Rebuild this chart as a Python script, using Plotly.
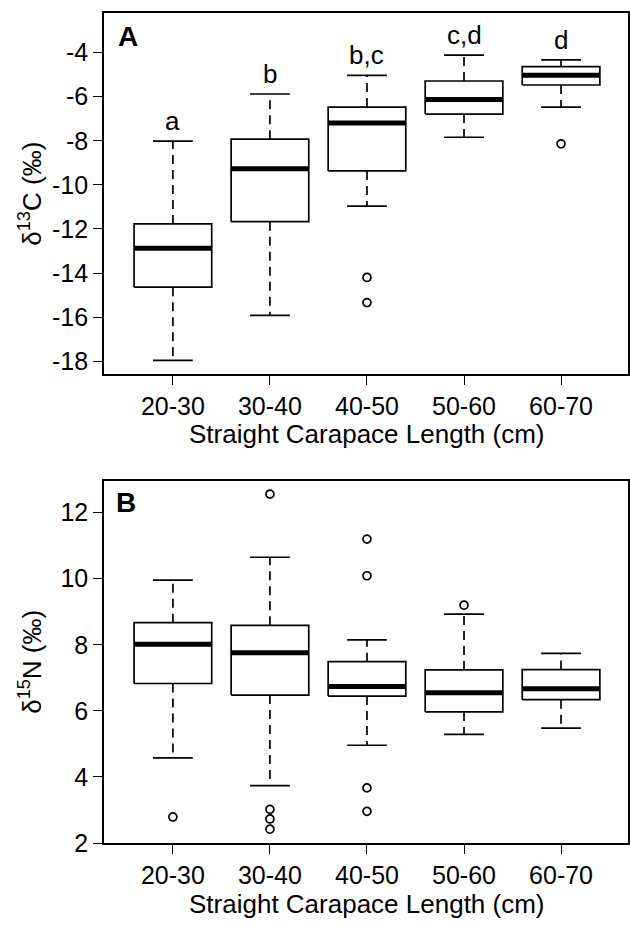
import plotly.graph_objects as go

# ---------------- data ----------------
categories = ["20-30", "30-40", "40-50", "50-60", "60-70"]

c13_lower = [-17.96, -15.92, -10.96, -7.84, -6.47]
c13_q1 = [-14.64, -11.67, -9.37, -6.79, -5.47]
c13_median = [-12.88, -9.27, -7.20, -6.13, -5.03]
c13_q3 = [-11.77, -7.93, -6.47, -5.29, -4.64]
c13_upper = [-8.02, -5.88, -5.03, -4.12, -4.33]
c13_outliers = [[], [], [-14.20, -15.34], [], [-8.14]]
c13_letters = ["a", "b", "b,c", "c,d", "d"]
c13_ticks = [-18, -16, -14, -12, -10, -8, -6, -4]

n15_lower = [4.58, 3.74, 4.96, 5.29, 5.48]
n15_q1 = [6.83, 6.48, 6.45, 5.97, 6.34]
n15_median = [8.02, 7.76, 6.74, 6.55, 6.67]
n15_q3 = [8.67, 8.59, 7.49, 7.24, 7.25]
n15_upper = [9.96, 10.65, 8.15, 8.93, 7.74]
n15_outliers = [[2.79], [12.56, 3.02, 2.73, 2.42], [11.20, 10.09, 3.67, 2.96], [9.20], []]
n15_ticks = [2, 4, 6, 8, 10, 12]

# ---------------- styling ----------------
W, H = 630, 927
FONT = "Liberation Sans, Arial, Helvetica, sans-serif"
BOX_HALF = 0.40
CAP_HALF = 0.205
LW = 1.7

fig = go.Figure()


def add_panel(xa, ya, lower, q1, med, q3, upper, outliers):
    xs = list(range(len(categories)))
    # box rectangles
    bx, by = [], []
    for i in xs:
        bx += [i - BOX_HALF, i + BOX_HALF, i + BOX_HALF, i - BOX_HALF, i - BOX_HALF, None]
        by += [q1[i], q1[i], q3[i], q3[i], q1[i], None]
    fig.add_trace(go.Scatter(x=bx, y=by, mode="lines", xaxis=xa, yaxis=ya,
                             line=dict(color="black", width=LW), hoverinfo="skip"))
    # dashed whiskers
    wx, wy = [], []
    for i in xs:
        wx += [i, i, None, i, i, None]
        wy += [q3[i], upper[i], None, q1[i], lower[i], None]
    fig.add_trace(go.Scatter(x=wx, y=wy, mode="lines", xaxis=xa, yaxis=ya,
                             line=dict(color="black", width=LW, dash="9px,6px"),
                             hoverinfo="skip"))
    # caps
    cx, cy = [], []
    for i in xs:
        cx += [i - CAP_HALF, i + CAP_HALF, None, i - CAP_HALF, i + CAP_HALF, None]
        cy += [upper[i], upper[i], None, lower[i], lower[i], None]
    fig.add_trace(go.Scatter(x=cx, y=cy, mode="lines", xaxis=xa, yaxis=ya,
                             line=dict(color="black", width=LW), hoverinfo="skip"))
    # medians
    mx, my = [], []
    for i in xs:
        mx += [i - BOX_HALF, i + BOX_HALF, None]
        my += [med[i], med[i], None]
    fig.add_trace(go.Scatter(x=mx, y=my, mode="lines", xaxis=xa, yaxis=ya,
                             line=dict(color="black", width=5), hoverinfo="skip"))
    # outliers
    ox, oy = [], []
    for i in xs:
        for v in outliers[i]:
            ox.append(i)
            oy.append(v)
    fig.add_trace(go.Scatter(x=ox, y=oy, mode="markers", xaxis=xa, yaxis=ya,
                             marker=dict(symbol="circle-open", size=8, color="black",
                                         line=dict(width=1.7, color="black")),
                             hoverinfo="skip"))


add_panel("x", "y", c13_lower, c13_q1, c13_median, c13_q3, c13_upper, c13_outliers)
add_panel("x2", "y2", n15_lower, n15_q1, n15_median, n15_q3, n15_upper, n15_outliers)

xdom = [104 / W, 628 / W]
axis_common = dict(showline=True, mirror=True, linecolor="black", linewidth=1.6,
                   ticks="outside", ticklen=9, tickwidth=1.2, tickcolor="black",
                   showgrid=False, zeroline=False,
                   tickfont=dict(family=FONT, size=25, color="black"))

fig.update_layout(
    width=W, height=H,
    margin=dict(l=0, r=0, t=0, b=0),
    paper_bgcolor="white", plot_bgcolor="white",
    showlegend=False,
    xaxis=dict(domain=xdom, anchor="y", range=[-0.71, 4.69],
               tickmode="array", tickvals=list(range(len(categories))),
               ticktext=categories, **axis_common),
    yaxis=dict(domain=[1 - 380 / H, 1 - 13.3 / H], anchor="x", range=[-18.59, -2.21],
               tickmode="array", tickvals=c13_ticks,
               ticktext=[str(t) for t in c13_ticks], **axis_common),
    xaxis2=dict(domain=xdom, anchor="y2", range=[-0.71, 4.69],
                tickmode="array", tickvals=list(range(len(categories))),
                ticktext=categories, **axis_common),
    yaxis2=dict(domain=[1 - 856 / H, 1 - 488.3 / H], anchor="x2", range=[2.0, 12.96],
                tickmode="array", tickvals=n15_ticks,
                ticktext=[str(t) for t in n15_ticks], **axis_common),
)

ann = []
# significance letters above upper whiskers
for i, lab in enumerate(c13_letters):
    ann.append(dict(x=i, y=c13_upper[i], xref="x", yref="y", text=lab,
                    showarrow=False, yanchor="bottom", yshift=3,
                    font=dict(family=FONT, size=26, color="black")))
# panel labels
ann.append(dict(x=116 / W, y=1 - 19 / H, xref="paper", yref="paper", text="<b>A</b>",
                showarrow=False, xanchor="left", yanchor="top",
                font=dict(family=FONT, size=28, color="black")))
ann.append(dict(x=114 / W, y=1 - 492 / H, xref="paper", yref="paper", text="<b>B</b>",
                showarrow=False, xanchor="left", yanchor="top",
                font=dict(family=FONT, size=28, color="black")))
# axis titles
ann.append(dict(x=31 / W, y=1 - 196.7 / H, xref="paper", yref="paper",
                text="δ<sup>13</sup>C (‰)", textangle=-90, showarrow=False,
                xanchor="center", yanchor="middle",
                font=dict(family=FONT, size=26, color="black")))
ann.append(dict(x=31 / W, y=1 - 672 / H, xref="paper", yref="paper",
                text="δ<sup>15</sup>N (‰)", textangle=-90, showarrow=False,
                xanchor="center", yanchor="middle",
                font=dict(family=FONT, size=26, color="black")))
ann.append(dict(x=366.5 / W, y=1 - 441 / H, xref="paper", yref="paper",
                text="Straight Carapace Length (cm)", showarrow=False,
                xanchor="center", yanchor="middle",
                font=dict(family=FONT, size=26, color="black")))
ann.append(dict(x=366.5 / W, y=1 - 918 / H, xref="paper", yref="paper",
                text="Straight Carapace Length (cm)", showarrow=False,
                xanchor="center", yanchor="middle",
                font=dict(family=FONT, size=26, color="black")))
fig.update_layout(annotations=ann)

fig.write_html("out.html")
